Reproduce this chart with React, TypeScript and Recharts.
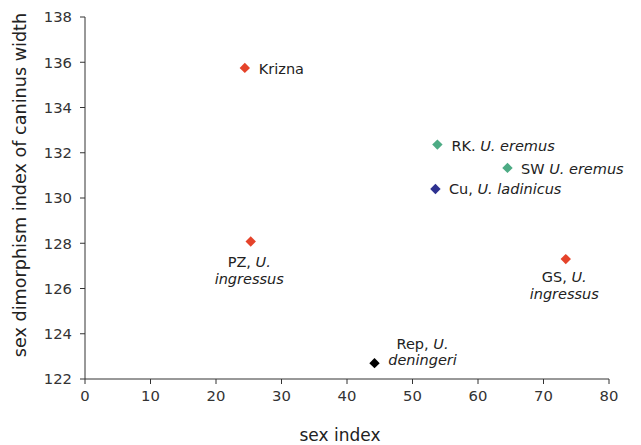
import { ScatterChart, Scatter, XAxis, YAxis, Label } from "recharts";

// sex index (x) vs sex dimorphism index of caninus width (y)
const ingressusPoints = [
  { name: "Krizna", x: 24.4, y: 135.75 },
  { name: "PZ", x: 25.3, y: 128.08 },
  { name: "GS", x: 73.4, y: 127.3 },
];
const eremusPoints = [
  { name: "RK", x: 53.8, y: 132.36 },
  { name: "SW", x: 64.5, y: 131.33 },
];
const ladinicusPoints = [{ name: "Cu", x: 53.5, y: 130.4 }];
const deningeriPoints = [{ name: "Rep", x: 44.2, y: 122.7 }];

const xTicks = [0, 10, 20, 30, 40, 50, 60, 70, 80];
const yTicks = [122, 124, 126, 128, 130, 132, 134, 136, 138];

const FONT = "'DejaVu Sans', Verdana, sans-serif";

type Part = { t: string; i?: boolean };
type LabelLine = { parts: Part[]; dx: number; dy: number; anchor: "start" | "middle" };

const LABELS: Record<string, LabelLine[]> = {
  Krizna: [{ parts: [{ t: "Krizna" }], dx: 14, dy: 1, anchor: "start" }],
  RK: [{ parts: [{ t: "RK. " }, { t: "U. eremus", i: true }], dx: 14, dy: 1, anchor: "start" }],
  SW: [{ parts: [{ t: "SW " }, { t: "U. eremus", i: true }], dx: 13.5, dy: 1, anchor: "start" }],
  Cu: [{ parts: [{ t: "Cu, " }, { t: "U. ladinicus", i: true }], dx: 13.5, dy: 0, anchor: "start" }],
  PZ: [
    { parts: [{ t: "PZ, " }, { t: "U.", i: true }], dx: -1.5, dy: 20.5, anchor: "middle" },
    { parts: [{ t: "ingressus", i: true }], dx: -1.5, dy: 37.5, anchor: "middle" },
  ],
  GS: [
    { parts: [{ t: "GS, " }, { t: "U.", i: true }], dx: -1.5, dy: 18, anchor: "middle" },
    { parts: [{ t: "ingressus", i: true }], dx: -1.5, dy: 35, anchor: "middle" },
  ],
  Rep: [
    { parts: [{ t: "Rep, " }, { t: "U.", i: true }], dx: 48, dy: -19.5, anchor: "middle" },
    { parts: [{ t: "deningeri", i: true }], dx: 48, dy: -3, anchor: "middle" },
  ],
};

const makeShape = (color: string) => (props: any) => {
  const { cx, cy, payload } = props;
  const r = 5.2;
  const lines = LABELS[payload.name] ?? [];
  return (
    <g>
      <polygon
        points={`${cx},${cy - r} ${cx + r},${cy} ${cx},${cy + r} ${cx - r},${cy}`}
        fill={color}
      />
      {lines.map((ln, k) => (
        <text
          key={k}
          x={cx + ln.dx}
          y={cy + ln.dy}
          textAnchor={ln.anchor}
          dominantBaseline="central"
          fontFamily={FONT}
          fontSize={14.5}
          fill="#222"
        >
          {ln.parts.map((p, j) => (
            <tspan key={j} fontStyle={p.i ? "italic" : "normal"}>
              {p.t}
            </tspan>
          ))}
        </text>
      ))}
    </g>
  );
};

const tickStyle = { fontFamily: FONT, fontSize: 14.8, fill: "#333" };

export default function App() {
  return (
    <div style={{ position: "absolute", left: 0, top: 0, background: "#fff" }}>
      <ScatterChart
        width={641}
        height={445}
        margin={{ top: 17, right: 32, left: 0, bottom: 0 }}
      >
        <XAxis
          type="number"
          dataKey="x"
          domain={[0, 80]}
          ticks={xTicks}
          tick={tickStyle}
          tickLine={{ stroke: "#333" }}
          axisLine={{ stroke: "#333" }}
          tickSize={5}
          tickMargin={6}
          height={66}
        >
          <Label
            value="sex index"
            position="insideBottom"
            offset={4}
            dx={-7}
            style={{ fontFamily: FONT, fontSize: 17, fill: "#222" }}
          />
        </XAxis>
        <YAxis
          type="number"
          dataKey="y"
          domain={[122, 138]}
          ticks={yTicks}
          tick={tickStyle}
          tickLine={{ stroke: "#333" }}
          axisLine={{ stroke: "#333" }}
          tickSize={5}
          tickMargin={8}
          width={85}
        >
          <Label
            value="sex dimorphism index of caninus width"
            angle={-90}
            position="insideLeft"
            offset={20}
            dy={-13}
            style={{ textAnchor: "middle", fontFamily: FONT, fontSize: 17.6, fill: "#222" }}
          />
        </YAxis>
        <Scatter data={ingressusPoints} fill="#e5432a" shape={makeShape("#e5432a")} isAnimationActive={false} />
        <Scatter data={eremusPoints} fill="#4dab84" shape={makeShape("#4dab84")} isAnimationActive={false} />
        <Scatter data={ladinicusPoints} fill="#2e3190" shape={makeShape("#2e3190")} isAnimationActive={false} />
        <Scatter data={deningeriPoints} fill="#000" shape={makeShape("#000")} isAnimationActive={false} />
      </ScatterChart>
    </div>
  );
}
